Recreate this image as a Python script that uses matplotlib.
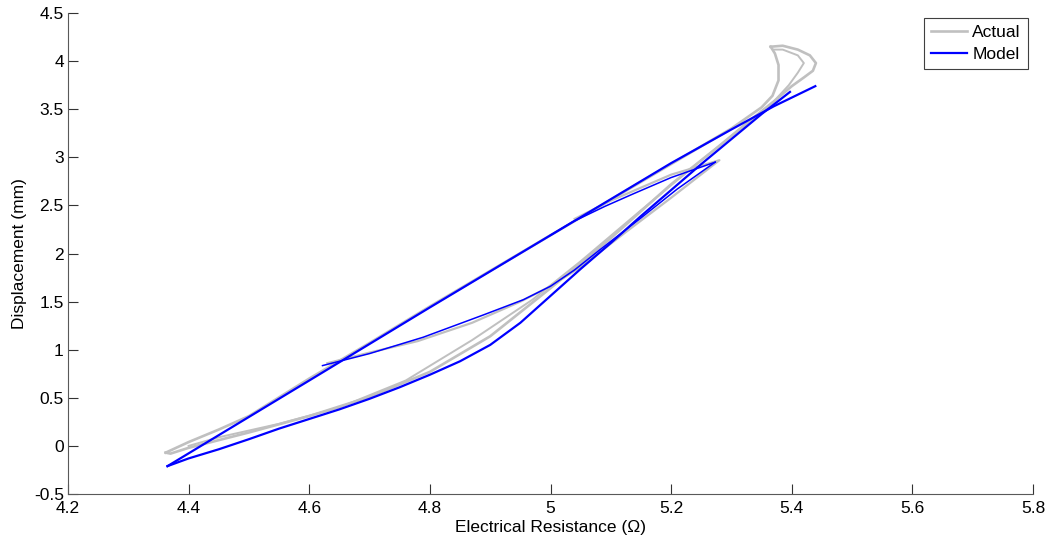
import numpy as np
import matplotlib
matplotlib.use("Agg")
import matplotlib.pyplot as plt

plt.rcParams['font.family'] = ['Liberation Sans', 'DejaVu Sans']

act_up_x = [4.362, 4.40, 4.45, 4.50, 4.60, 4.70, 4.80, 4.90, 5.00, 5.10, 5.20, 5.30, 5.35, 5.368, 5.378, 5.378, 5.372, 5.365]
act_up_y = [-0.07, 0.04, 0.17, 0.31, 0.70, 1.07, 1.45, 1.82, 2.19, 2.56, 2.93, 3.30, 3.52, 3.64, 3.80, 3.96, 4.08, 4.15]

act_down_x = [5.365, 5.385, 5.41, 5.43, 5.44, 5.435, 5.42, 5.40, 5.37, 5.33, 5.28, 5.20, 5.10, 5.00, 4.90, 4.80, 4.70, 4.60, 4.50, 4.45, 4.40, 4.37, 4.362]
act_down_y = [4.15, 4.16, 4.12, 4.06, 3.98, 3.90, 3.83, 3.74, 3.58, 3.38, 3.12, 2.72, 2.16, 1.64, 1.14, 0.77, 0.51, 0.31, 0.14, 0.06, -0.02, -0.08, -0.07]

act_low2_x = [4.40, 4.45, 4.55, 4.65, 4.76, 4.87, 4.97, 5.05, 5.15, 5.25, 5.32, 5.37, 5.395, 5.41, 5.42, 5.41, 5.385, 5.37]
act_low2_y = [0.00, 0.09, 0.23, 0.40, 0.68, 1.10, 1.52, 1.92, 2.45, 2.97, 3.32, 3.58, 3.75, 3.88, 3.98, 4.06, 4.12, 4.12]

act_mid_x = [4.63, 4.70, 4.78, 4.87, 4.95, 5.00, 5.05, 5.12, 5.20, 5.28, 5.20, 5.10, 5.04]
act_mid_y = [0.86, 0.97, 1.09, 1.28, 1.50, 1.66, 1.86, 2.20, 2.58, 2.97, 2.82, 2.55, 2.36]

# model output
mod_up_x = [4.365, 4.60, 4.80, 5.00, 5.20, 5.30, 5.37, 5.439]
mod_up_y = [-0.21, 0.68, 1.44, 2.19, 2.94, 3.29, 3.53, 3.74]

mod_low_x = [4.365, 4.40, 4.45, 4.50, 4.55, 4.60, 4.65, 4.70, 4.75, 4.80, 4.85, 4.90, 4.95, 5.00,
             5.05, 5.10, 5.15, 5.20, 5.25, 5.30, 5.35, 5.397]
mod_low_y = [-0.21, -0.13, -0.035, 0.07, 0.18, 0.28, 0.38, 0.49, 0.61, 0.74, 0.88, 1.05, 1.28, 1.56,
             1.84, 2.11, 2.39, 2.66, 2.93, 3.19, 3.45, 3.68]

mod_mid_x = [4.622, 4.70, 4.789, 4.888, 4.955, 5.00, 5.04, 5.082, 5.15, 5.21, 5.273]
mod_mid_y = [0.835, 0.96, 1.13, 1.36, 1.52, 1.66, 1.83, 2.04, 2.37, 2.67, 2.95]

mod_br_x = [5.273, 5.20, 5.137, 5.09, 5.037, 5.00]
mod_br_y = [2.95, 2.79, 2.62, 2.49, 2.33, 2.19]

gray = '#c0c0c0'
blue = '#0000ff'
fs = 12.5

fig = plt.figure(figsize=(10.52, 5.48), dpi=100)
ax = fig.add_axes([0.0646, 0.0985, 0.9174, 0.8777])

# actual (several passes)
ax.plot(act_up_x, act_up_y, color=gray, lw=1.9, label='Actual')
ax.plot(act_down_x, act_down_y, color=gray, lw=1.9)
ax.plot(act_low2_x, act_low2_y, color=gray, lw=1.4)
ax.plot(act_mid_x, act_mid_y, color=gray, lw=1.6)

# model
ax.plot(mod_up_x, mod_up_y, color=blue, lw=1.6, label='Model')
ax.plot(mod_low_x, mod_low_y, color=blue, lw=1.6)
ax.plot(mod_mid_x, mod_mid_y, color=blue, lw=1.1)
ax.plot(mod_br_x, mod_br_y, color=blue, lw=1.1)

ax.set_xlim(4.2, 5.8)
ax.set_ylim(-0.5, 4.5)
ax.set_xticks(np.arange(4.2, 5.81, 0.2))
ax.set_xticklabels(['4.2', '4.4', '4.6', '4.8', '5', '5.2', '5.4', '5.6', '5.8'])
ax.set_yticks(np.arange(-0.5, 4.51, 0.5))
ax.set_yticklabels(['-0.5', '0', '0.5', '1', '1.5', '2', '2.5', '3', '3.5', '4', '4.5'])

ax.spines['top'].set_visible(False)
ax.spines['right'].set_visible(False)
for s in ['left', 'bottom']:
    ax.spines[s].set_color('0.35')
    ax.spines[s].set_linewidth(0.8)
ax.tick_params(direction='in', length=7, width=0.8, labelsize=fs, color='0.2')
ax.tick_params(axis='y', pad=3)
ax.tick_params(axis='x', pad=5)

ax.set_xlabel('Electrical Resistance (\u03a9)', fontsize=fs, labelpad=3)
ax.set_ylabel('Displacement (mm)', fontsize=fs, labelpad=5)

leg = ax.legend(loc='upper right', fontsize=fs, fancybox=False, edgecolor='0.25',
                handlelength=2.1, handletextpad=0.3, borderpad=0.4, labelspacing=0.4,
                borderaxespad=0.3, framealpha=1)
leg.get_frame().set_linewidth(0.8)

fig.savefig('out.png', dpi=100)
